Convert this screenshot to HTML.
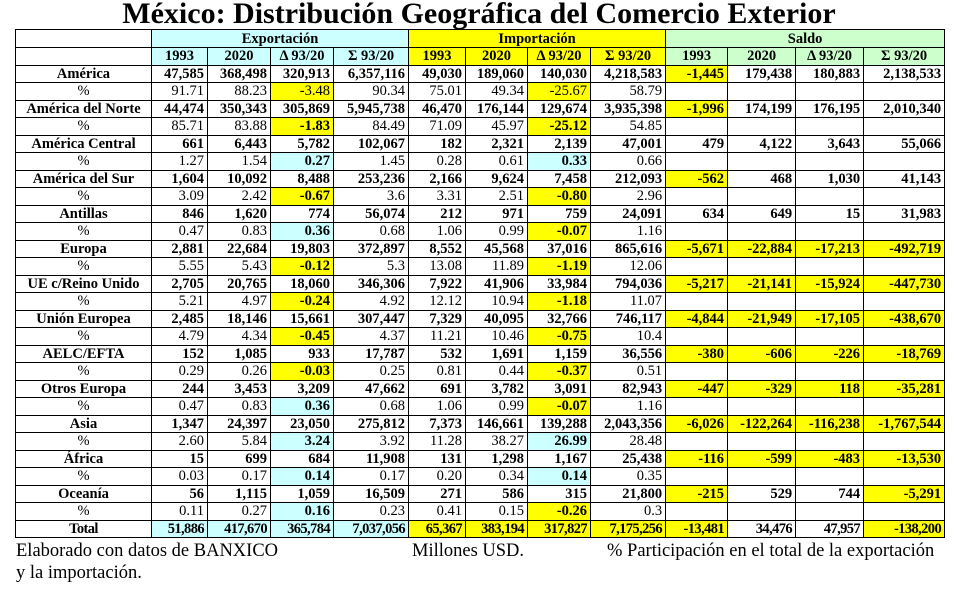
<!DOCTYPE html>
<html><head><meta charset="utf-8"><style>
body{margin:0;width:958px;height:591px;background:#fff;font-family:"Liberation Serif",serif;position:relative;overflow:hidden}
h1{position:absolute;left:0;width:958px;top:-3px;margin:0;text-align:center;font-size:30px;font-weight:bold;line-height:34px}
table{position:absolute;left:15px;top:29px;border-collapse:collapse;table-layout:fixed;width:929px;height:509px}
td{border:1px solid #000;padding:0 3px 0 0;font-size:14.5px;line-height:14px;text-align:right;white-space:nowrap;overflow:hidden;font-weight:bold}
tr.p td{font-weight:normal}
tr.p td.c,tr.p td.y{font-weight:bold}
tr.p td.n{font-weight:normal}
td.l{text-align:center;padding:0}
tr.h1 td{height:17px}
tr.h td{text-align:center;padding:0}
.c{background:#ccffff}.y{background:#ffff00}.g{background:#ccffcc}
tr.t td{letter-spacing:-0.6px}
.f{position:absolute;font-size:18.5px;line-height:20px}
</style></head><body>
<h1>México: Distribución Geográfica del Comercio Exterior</h1>
<table>
<colgroup><col style="width:136px"><col style="width:56px"><col style="width:63px"><col style="width:63px"><col style="width:75px"><col style="width:57px"><col style="width:62px"><col style="width:63px"><col style="width:75px"><col style="width:62px"><col style="width:68px"><col style="width:68px"><col style="width:81px"></colgroup>
<tr class="h h1"><td></td><td colspan="4" class="c">Exportación</td><td colspan="4" class="y">Importación</td><td colspan="4" class="g">Saldo</td></tr>
<tr class="h"><td></td><td class="c">1993</td><td class="c">2020</td><td class="c">Δ 93/20</td><td class="c">Σ 93/20</td><td class="y">1993</td><td class="y">2020</td><td class="y">Δ 93/20</td><td class="y">Σ 93/20</td><td class="g">1993</td><td class="g">2020</td><td class="g">Δ 93/20</td><td class="g">Σ 93/20</td></tr>
<tr><td class="l">América</td><td>47,585</td><td>368,498</td><td>320,913</td><td>6,357,116</td><td>49,030</td><td>189,060</td><td>140,030</td><td>4,218,583</td><td class="y">-1,445</td><td>179,438</td><td>180,883</td><td>2,138,533</td></tr>
<tr class="p"><td class="l">%</td><td>91.71</td><td>88.23</td><td class="y n">-3.48</td><td>90.34</td><td>75.01</td><td>49.34</td><td class="y n">-25.67</td><td>58.79</td><td></td><td></td><td></td><td></td></tr>
<tr><td class="l">América del Norte</td><td>44,474</td><td>350,343</td><td>305,869</td><td>5,945,738</td><td>46,470</td><td>176,144</td><td>129,674</td><td>3,935,398</td><td class="y">-1,996</td><td>174,199</td><td>176,195</td><td>2,010,340</td></tr>
<tr class="p"><td class="l">%</td><td>85.71</td><td>83.88</td><td class="y">-1.83</td><td>84.49</td><td>71.09</td><td>45.97</td><td class="y">-25.12</td><td>54.85</td><td></td><td></td><td></td><td></td></tr>
<tr><td class="l">América Central</td><td>661</td><td>6,443</td><td>5,782</td><td>102,067</td><td>182</td><td>2,321</td><td>2,139</td><td>47,001</td><td>479</td><td>4,122</td><td>3,643</td><td>55,066</td></tr>
<tr class="p"><td class="l">%</td><td>1.27</td><td>1.54</td><td class="c">0.27</td><td>1.45</td><td>0.28</td><td>0.61</td><td class="c">0.33</td><td>0.66</td><td></td><td></td><td></td><td></td></tr>
<tr><td class="l">América del Sur</td><td>1,604</td><td>10,092</td><td>8,488</td><td>253,236</td><td>2,166</td><td>9,624</td><td>7,458</td><td>212,093</td><td class="y">-562</td><td>468</td><td>1,030</td><td>41,143</td></tr>
<tr class="p"><td class="l">%</td><td>3.09</td><td>2.42</td><td class="y">-0.67</td><td>3.6</td><td>3.31</td><td>2.51</td><td class="y">-0.80</td><td>2.96</td><td></td><td></td><td></td><td></td></tr>
<tr><td class="l">Antillas</td><td>846</td><td>1,620</td><td>774</td><td>56,074</td><td>212</td><td>971</td><td>759</td><td>24,091</td><td>634</td><td>649</td><td>15</td><td>31,983</td></tr>
<tr class="p"><td class="l">%</td><td>0.47</td><td>0.83</td><td class="c">0.36</td><td>0.68</td><td>1.06</td><td>0.99</td><td class="y">-0.07</td><td>1.16</td><td></td><td></td><td></td><td></td></tr>
<tr><td class="l">Europa</td><td>2,881</td><td>22,684</td><td>19,803</td><td>372,897</td><td>8,552</td><td>45,568</td><td>37,016</td><td>865,616</td><td class="y">-5,671</td><td class="y">-22,884</td><td class="y">-17,213</td><td class="y">-492,719</td></tr>
<tr class="p"><td class="l">%</td><td>5.55</td><td>5.43</td><td class="y">-0.12</td><td>5.3</td><td>13.08</td><td>11.89</td><td class="y">-1.19</td><td>12.06</td><td></td><td></td><td></td><td></td></tr>
<tr><td class="l">UE c/Reino Unido</td><td>2,705</td><td>20,765</td><td>18,060</td><td>346,306</td><td>7,922</td><td>41,906</td><td>33,984</td><td>794,036</td><td class="y">-5,217</td><td class="y">-21,141</td><td class="y">-15,924</td><td class="y">-447,730</td></tr>
<tr class="p"><td class="l">%</td><td>5.21</td><td>4.97</td><td class="y">-0.24</td><td>4.92</td><td>12.12</td><td>10.94</td><td class="y">-1.18</td><td>11.07</td><td></td><td></td><td></td><td></td></tr>
<tr><td class="l">Unión Europea</td><td>2,485</td><td>18,146</td><td>15,661</td><td>307,447</td><td>7,329</td><td>40,095</td><td>32,766</td><td>746,117</td><td class="y">-4,844</td><td class="y">-21,949</td><td class="y">-17,105</td><td class="y">-438,670</td></tr>
<tr class="p"><td class="l">%</td><td>4.79</td><td>4.34</td><td class="y">-0.45</td><td>4.37</td><td>11.21</td><td>10.46</td><td class="y">-0.75</td><td>10.4</td><td></td><td></td><td></td><td></td></tr>
<tr><td class="l">AELC/EFTA</td><td>152</td><td>1,085</td><td>933</td><td>17,787</td><td>532</td><td>1,691</td><td>1,159</td><td>36,556</td><td class="y">-380</td><td class="y">-606</td><td class="y">-226</td><td class="y">-18,769</td></tr>
<tr class="p"><td class="l">%</td><td>0.29</td><td>0.26</td><td class="y">-0.03</td><td>0.25</td><td>0.81</td><td>0.44</td><td class="y">-0.37</td><td>0.51</td><td></td><td></td><td></td><td></td></tr>
<tr><td class="l">Otros Europa</td><td>244</td><td>3,453</td><td>3,209</td><td>47,662</td><td>691</td><td>3,782</td><td>3,091</td><td>82,943</td><td class="y">-447</td><td class="y">-329</td><td class="y">118</td><td class="y">-35,281</td></tr>
<tr class="p"><td class="l">%</td><td>0.47</td><td>0.83</td><td class="c">0.36</td><td>0.68</td><td>1.06</td><td>0.99</td><td class="y">-0.07</td><td>1.16</td><td></td><td></td><td></td><td></td></tr>
<tr><td class="l">Asia</td><td>1,347</td><td>24,397</td><td>23,050</td><td>275,812</td><td>7,373</td><td>146,661</td><td>139,288</td><td>2,043,356</td><td class="y">-6,026</td><td class="y">-122,264</td><td class="y">-116,238</td><td class="y">-1,767,544</td></tr>
<tr class="p"><td class="l">%</td><td>2.60</td><td>5.84</td><td class="c">3.24</td><td>3.92</td><td>11.28</td><td>38.27</td><td class="c">26.99</td><td>28.48</td><td></td><td></td><td></td><td></td></tr>
<tr><td class="l">África</td><td>15</td><td>699</td><td>684</td><td>11,908</td><td>131</td><td>1,298</td><td>1,167</td><td>25,438</td><td class="y">-116</td><td class="y">-599</td><td class="y">-483</td><td class="y">-13,530</td></tr>
<tr class="p"><td class="l">%</td><td>0.03</td><td>0.17</td><td class="c">0.14</td><td>0.17</td><td>0.20</td><td>0.34</td><td class="c">0.14</td><td>0.35</td><td></td><td></td><td></td><td></td></tr>
<tr><td class="l">Oceanía</td><td>56</td><td>1,115</td><td>1,059</td><td>16,509</td><td>271</td><td>586</td><td>315</td><td>21,800</td><td class="y">-215</td><td>529</td><td>744</td><td class="y">-5,291</td></tr>
<tr class="p"><td class="l">%</td><td>0.11</td><td>0.27</td><td class="c">0.16</td><td>0.23</td><td>0.41</td><td>0.15</td><td class="y">-0.26</td><td>0.3</td><td></td><td></td><td></td><td></td></tr>
<tr class="t"><td class="l">Total</td><td class="c">51,886</td><td class="c">417,670</td><td class="c">365,784</td><td class="c">7,037,056</td><td class="y">65,367</td><td class="y">383,194</td><td class="y">317,827</td><td class="y">7,175,256</td><td class="y">-13,481</td><td>34,476</td><td>47,957</td><td class="y">-138,200</td></tr>
</table>
<div class="f" style="left:16px;top:541px">Elaborado con datos de BANXICO</div>
<div class="f" style="left:412px;top:541px">Millones USD.</div>
<div class="f" style="left:607px;top:541px">% Participación en el total de la exportación</div>
<div class="f" style="left:16px;top:563px">y la importación.</div>
</body></html>
